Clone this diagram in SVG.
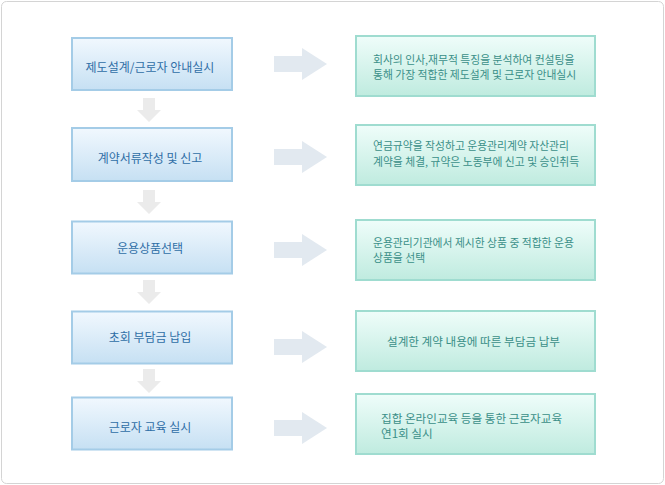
<svg xmlns="http://www.w3.org/2000/svg" width="665" height="485" viewBox="0 0 665 485">
<defs>
<linearGradient id="gb" x1="0" y1="0" x2="0" y2="1">
<stop offset="0" stop-color="#f1f8fe"/>
<stop offset="1" stop-color="#c6e0f3"/>
</linearGradient>
<linearGradient id="gg" x1="0" y1="0" x2="0" y2="1">
<stop offset="0" stop-color="#effdfa"/>
<stop offset="1" stop-color="#bfebdf"/>
</linearGradient>
<path id="ar" d="M0,-8 H28 V-16 L53,0 L28,16 V8 H0 Z"/>
<path id="ad" d="M-6,0 H6 V12 H12 L0,24 L-12,12 H-6 Z"/>
</defs>
<style>
.frame{fill:#ffffff;stroke:#d4d4d4;stroke-width:1}
.lb{fill:url(#gb);stroke:#a4cce7;stroke-width:2}
.rb{fill:url(#gg);stroke:#9fdcd0;stroke-width:2}
.lt{font-family:"Noto Sans CJK KR","Noto Sans",sans-serif;font-size:12px;fill:#2f6ea6;text-anchor:middle}
.rt{font-family:"Noto Sans CJK KR","Noto Sans",sans-serif;font-size:10.8px;fill:#3a8f88}
.rt2{font-size:11.6px}
.aR{fill:#e2e9f0}
.aD{fill:#ebebeb}
</style>
<rect class="frame" x="1.5" y="1.5" width="662" height="482" rx="5"/>
<g id="connectors">
<use class="aD" href="#ad" x="149" y="98"/>
<use class="aD" href="#ad" x="149" y="190"/>
<use class="aD" href="#ad" x="149" y="280"/>
<use class="aD" href="#ad" x="149" y="369"/>
<use class="aR" href="#ar" x="274" y="64"/>
<use class="aR" href="#ar" x="274" y="157"/>
<use class="aR" href="#ar" x="274" y="250"/>
<use class="aR" href="#ar" x="274" y="347"/>
<use class="aR" href="#ar" x="274" y="428"/>
</g>
<g id="step1"><rect class="lb" x="72" y="38" width="160" height="52"/><text class="lt" x="150" y="72">제도설계/근로자 안내실시</text></g>
<g id="step2"><rect class="lb" x="72" y="128" width="160" height="53"/><text class="lt" x="150" y="162.5">계약서류작성 및 신고</text></g>
<g id="step3"><rect class="lb" x="72" y="221.5" width="160" height="52"/><text class="lt" x="150" y="252.5">운용상품선택</text></g>
<g id="step4"><rect class="lb" x="72" y="311.5" width="160" height="52"/><text class="lt" x="150" y="342">초회 부담금 납입</text></g>
<g id="step5"><rect class="lb" x="72" y="397.5" width="160" height="52"/><text class="lt" x="150" y="432">근로자 교육 실시</text></g>
<g id="desc1"><rect class="rb" x="356" y="36" width="239" height="60"/><text class="rt" x="373" y="64">회사의 인사,재무적 특징을 분석하여 컨설팅을</text><text class="rt" x="373" y="79">통해 가장 적합한 제도설계 및 근로자 안내실시</text></g>
<g id="desc2"><rect class="rb" x="356" y="125" width="239" height="60"/><text class="rt" x="373" y="150">연금규약을 작성하고 운용관리계약 자산관리</text><text class="rt" x="373" y="165.5">계약을 체결, 규약은 노동부에 신고 및 승인취득</text></g>
<g id="desc3"><rect class="rb" x="356" y="220" width="239" height="60"/><text class="rt" x="373" y="246.5">운용관리기관에서 제시한 상품 중 적합한 운용</text><text class="rt" x="373" y="261.5">상품을 선택</text></g>
<g id="desc4"><rect class="rb" x="356" y="311" width="239" height="60"/><text class="rt rt2" x="473.5" y="346" text-anchor="middle">설계한 계약 내용에 따른 부담금 납부</text></g>
<g id="desc5"><rect class="rb" x="356" y="394" width="239" height="60"/><text class="rt rt2" x="381" y="422.5">집합 온라인교육 등을 통한 근로자교육</text><text class="rt rt2" x="381" y="437.5">연1회 실시</text></g>
</svg>
